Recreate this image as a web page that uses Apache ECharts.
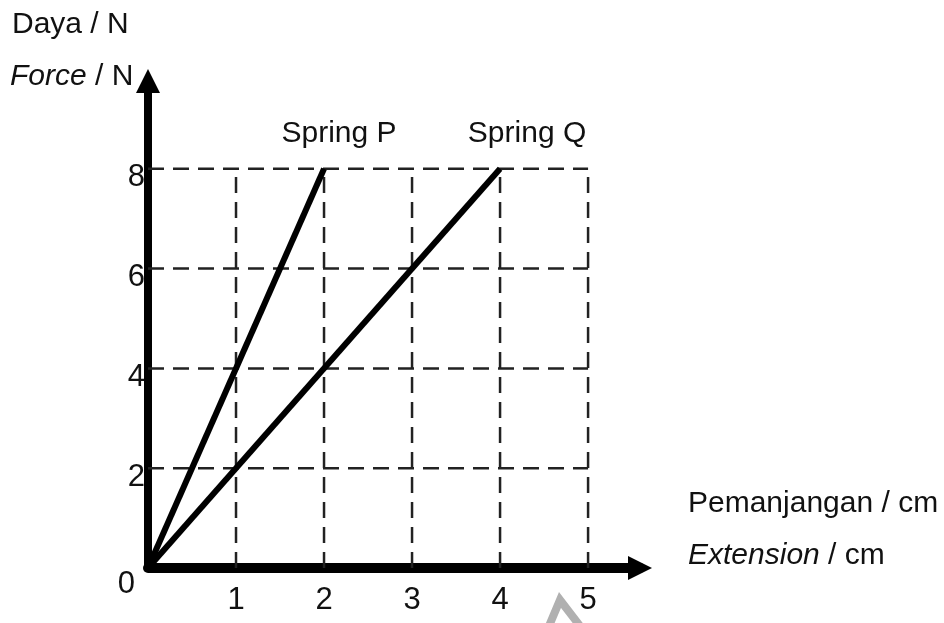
<!DOCTYPE html>
<html>
<head>
<meta charset="utf-8">
<script src="https://cdn.jsdelivr.net/npm/echarts@6/dist/echarts.min.js"></script>
<style>html,body{margin:0;padding:0;background:#fff;}#c{width:944px;height:623px;}</style>
</head>
<body>
<div id="c"></div>
<script>
// Data
const xGridTicks = [1, 2, 3, 4, 5];
const yGridTicks = [2, 4, 6, 8];
const springP = [[0, 0], [2, 8]];
const springQ = [[0, 0], [4, 8]];
const springNames = ['Spring P', 'Spring Q'];
const xMaxGrid = 5;
const yMaxGrid = 8;

const FONT = 'Liberation Sans';
const FS = 30;
const dashStyle = { color: '#222', width: 2.5, type: [16, 9] };

const gridSeries = [];
xGridTicks.forEach(function (x) {
  gridSeries.push({
    type: 'line', data: [[x, 0], [x, yMaxGrid]], symbol: 'none', silent: true,
    lineStyle: dashStyle, z: 1
  });
});
yGridTicks.forEach(function (y) {
  gridSeries.push({
    type: 'line', data: [[0, y], [xMaxGrid, y]], symbol: 'none', silent: true,
    lineStyle: dashStyle, z: 1
  });
});

function springSeries(name, pts, offset) {
  return {
    type: 'line', name: name, symbol: 'none', silent: true, z: 3,
    lineStyle: { color: '#000', width: 6 },
    data: pts.map(function (p, i) {
      if (i === pts.length - 1) {
        return {
          value: p, symbol: 'circle', symbolSize: 0.01,
          label: {
            show: true, formatter: name, position: 'top', offset: offset,
            fontSize: FS, fontFamily: FONT, color: '#111'
          }
        };
      }
      return { value: p };
    })
  };
}

const chart = echarts.init(document.getElementById('c'), null, { renderer: 'canvas' });
chart.setOption({
  animation: false,
  backgroundColor: '#fff',
  grid: { left: 148, right: 304, top: 81, bottom: 55, containLabel: false },
  xAxis: {
    type: 'value', min: 0, max: 5.59, interval: 1,
    axisLine: { show: true, symbol: ['none', 'triangle'], symbolSize: [24, 24],
      lineStyle: { color: '#000', width: 10 } },
    axisTick: { show: false },
    splitLine: { show: false },
    axisLabel: { fontSize: 31, fontFamily: FONT, color: '#111', margin: 17,
      showMaxLabel: false,
      formatter: function (v) { return v === 0 ? '' : String(v); } }
  },
  yAxis: {
    type: 'value', min: 0, max: 9.76, interval: 2,
    axisLine: { show: true, symbol: ['none', 'triangle'], symbolSize: [24, 24],
      lineStyle: { color: '#000', width: 8 } },
    axisTick: { show: false },
    splitLine: { show: false },
    axisLabel: { fontSize: 31, fontFamily: FONT, color: '#111', margin: 3,
      verticalAlign: 'top', lineHeight: 18, showMaxLabel: false,
      formatter: function (v) { return v === 0 ? '{z|0}' : '{a|' + v + '}'; },
      rich: {
        a: { fontSize: 31, fontFamily: FONT, color: '#111', lineHeight: 18 },
        z: { fontSize: 31, fontFamily: FONT, color: '#111', lineHeight: 18, padding: [15, 10, 0, 0] }
      } }
  },
  graphic: [
    { type: 'text', left: 12, top: 10, style: { text: 'Daya / N', fontSize: FS, fontFamily: FONT, fill: '#111' } },
    { type: 'text', left: 10, top: 62, style: { text: '{i|Force} / N', fontSize: FS, fontFamily: FONT, fill: '#111',
      rich: { i: { fontStyle: 'italic', fontSize: FS, fontFamily: FONT, fill: '#111' } } } },
    { type: 'text', left: 688, top: 489, style: { text: 'Pemanjangan / cm', fontSize: FS, fontFamily: FONT, fill: '#111' } },
    { type: 'text', left: 688, top: 541, style: { text: '{i|Extension} / cm', fontSize: FS, fontFamily: FONT, fill: '#111',
      rich: { i: { fontStyle: 'italic', fontSize: FS, fontFamily: FONT, fill: '#111' } } } },
    { type: 'polyline', silent: true, shape: { points: [[549, 626], [560, 600], [580, 626]] },
      style: { stroke: '#b0b0b0', lineWidth: 8, fill: null, lineJoin: 'miter' } }
  ],
  series: gridSeries.concat([
    springSeries(springNames[0], springP, [15, -15]),
    springSeries(springNames[1], springQ, [27, -15])
  ])
});
</script>
</body>
</html>
